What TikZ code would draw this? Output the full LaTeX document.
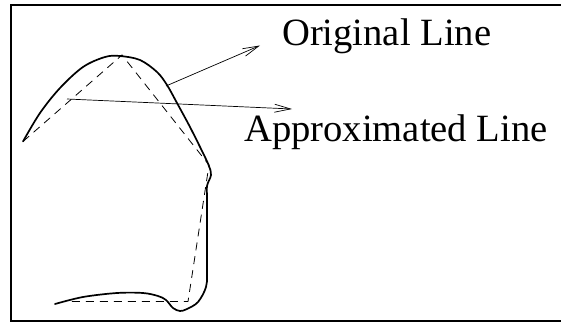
\documentclass[tikz,border=0pt]{standalone}
\usepackage{fontspec}
\setmainfont{Liberation Serif}
\usetikzlibrary{arrows.meta}
\begin{document}
\begin{tikzpicture}[x=1pt,y=-1pt,
  frame/.style={line width=1.8pt},
  origcurve/.style={line width=1.7pt, line join=round, line cap=round},
  approxcurve/.style={line width=0.8pt, dash pattern=on 8pt off 6pt},
  pointer/.style={line width=0.7pt, -{Straight Barb[length=16pt,width=8pt,line width=0.7pt]}},
  label/.style={anchor=base west, inner sep=0pt, font=\fontsize{38.6}{40}\selectfont}]
\useasboundingbox (0,0) rectangle (561,324);
\clip (0,0) rectangle (561,324);
\draw[frame] (11,5) rectangle (570,321);
% original curve
\draw[origcurve] plot[smooth, tension=0.55] coordinates {
  (23,141.5) (40,113) (60,88) (83,67) (105,57) (120,56) (140,60) (157,72)
  (167,85) (177,103) (190,127) (203,153) (209,166) (211,175) (207,186)
  (207,200) (207,270) (206,287) (198,302) (187,309) (180,311) (173,308)
  (166,300) (158,296) (143,293) (117,293) (83,297) (55,304)};
% approximated line
\draw[approxcurve] (23,141.5) -- (122,55) -- (209,165) -- (188,301.5) -- (62,301.5);
% labels
\node[label] (orig) at (282,45) {Original Line};
\node[label] (approx) at (244,141) {Approximated Line};
\coordinate (po) at (166,86);
\coordinate (pa) at (67,99);
\coordinate (to) at (260,45.5);
\coordinate (ta) at (292,109);
\draw[pointer] (po) -- (to);
\draw[pointer] (pa) -- (ta);
\end{tikzpicture}
\end{document}
